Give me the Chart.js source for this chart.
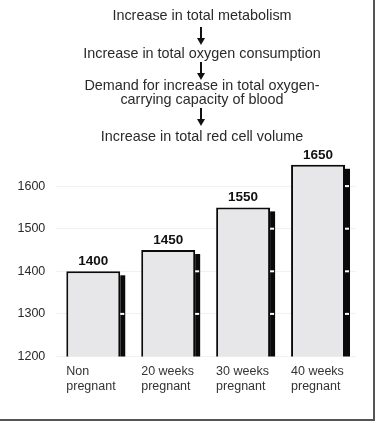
<!DOCTYPE html>
<html>
<head>
<meta charset="utf-8">
<script src="https://cdn.jsdelivr.net/npm/chart.js@4"></script>
<style>
    body { margin: 0; background: #fff; }
    #wrap { position: relative; width: 378px; height: 423px; overflow: hidden; background: #fff; }
    #chart { position: absolute; left: 0; top: 0; }
    .step { position: absolute; left: 0; width: 404px; text-align: center; font: 14.4px "Liberation Sans", Arial, sans-serif; color: #2a2a2a; line-height: 15px; white-space: nowrap; }
    .shaft { position: absolute; left: 200px; width: 2px; background: #111; }
    .head { position: absolute; left: 196.5px; width: 0; height: 0; border-left: 4.5px solid transparent; border-right: 4.5px solid transparent; border-top: 7px solid #111; }
    .frame-r { position: absolute; left: 373px; top: 0; width: 2px; height: 421px; background: #555; }
    .frame-b { position: absolute; left: 0; top: 419px; width: 375px; height: 2px; background: #555; }
</style>
</head>
<body>
<div id="wrap">
    <canvas id="chart" width="378" height="423"></canvas>
    <div id="flow"></div>
    <div class="frame-r"></div>
    <div class="frame-b"></div>
</div>
<script>
// ---- data ----
const categories = [['Non', 'pregnant'], ['20 weeks', 'pregnant'], ['30 weeks', 'pregnant'], ['40 weeks', 'pregnant']];
const redCellVolume = [1400, 1450, 1550, 1650];
const yTicks = [1200, 1300, 1400, 1500, 1600];
const flowSteps = [
    'Increase in total metabolism',
    'Increase in total oxygen consumption',
    'Demand for increase in total oxygen-',
    'carrying capacity of blood',
    'Increase in total red cell volume'
];

// ---- flow chart text above the bars ----
const stepTops = [7.5, 45.5, 77.5, 91.5, 128.5];
const arrows = [[27, 45], [62, 80], [108, 126]];
const flow = document.getElementById('flow');
flowSteps.forEach((txt, i) => {
    const d = document.createElement('div');
    d.className = 'step';
    d.style.top = stepTops[i] + 'px';
    d.textContent = txt;
    flow.appendChild(d);
});
arrows.forEach(([y0, y1]) => {
    const s = document.createElement('div');
    s.className = 'shaft';
    s.style.top = y0 + 'px';
    s.style.height = (y1 - y0 - 6) + 'px';
    flow.appendChild(s);
    const h = document.createElement('div');
    h.className = 'head';
    h.style.top = (y1 - 7) + 'px';
    flow.appendChild(h);
});

// shadow on the right of each bar, with white notches at the tick levels
const barShadow = {
    id: 'barShadow',
    afterDatasetsDraw(chart) {
        const ctx = chart.ctx;
        const y = chart.scales.y;
        const base = y.getPixelForValue(yTicks[0]);
        chart.getDatasetMeta(0).data.forEach((bar, i) => {
            const right = bar.x + bar.width / 2;
            ctx.save();
            ctx.fillStyle = '#0a0a0a';
            ctx.fillRect(right, bar.y + 4, 5, base - bar.y - 4);
            ctx.fillStyle = '#fff';
            yTicks.forEach(v => {
                if (v > yTicks[0] && v < redCellVolume[i]) {
                    ctx.fillRect(right, y.getPixelForValue(v) - 1, 4, 2);
                }
            });
            // value label
            ctx.fillStyle = '#111';
            ctx.font = 'bold 13.5px "Liberation Sans", Arial, sans-serif';
            ctx.textAlign = 'center';
            ctx.textBaseline = 'middle';
            ctx.fillText(String(redCellVolume[i]), bar.x, bar.y - 10);
            ctx.restore();
        });
    }
};

new Chart(document.getElementById('chart'), {
    type: 'bar',
    data: {
        labels: categories,
        datasets: [{
            data: redCellVolume,
            backgroundColor: '#e7e7e9',
            borderColor: '#0a0a0a',
            borderWidth: 2,
            borderSkipped: false,
            categoryPercentage: 1,
            barPercentage: 0.72
        }]
    },
    options: {
        responsive: false,
        devicePixelRatio: 1,
        animation: false,
        layout: { padding: { top: 143.5, left: 7, right: 22.5, bottom: 21.5 } },
        plugins: { legend: { display: false }, tooltip: { enabled: false } },
        scales: {
            x: {
                grid: { display: false, drawTicks: false },
                border: { display: false },
                // labels are shifted left onto the bar edge, so drop the auto padding
                afterFit: (scale) => { scale.paddingLeft = 0; scale.paddingRight = 0; },
                ticks: {
                    color: '#333',
                    font: { family: '"Liberation Sans", Arial, sans-serif', size: 12.5, lineHeight: 1.2 },
                    align: 'start',
                    labelOffset: -27,
                    padding: 7.5,
                    maxRotation: 0,
                    autoSkip: false
                }
            },
            y: {
                min: 1200,
                max: 1700,
                afterBuildTicks: (axis) => { axis.ticks = yTicks.map(v => ({ value: v })); },
                grid: { color: '#f1f1f1', drawTicks: false },
                border: { display: false },
                ticks: {
                    color: '#2a2a2a',
                    font: { family: '"Liberation Sans", Arial, sans-serif', size: 12.5 },
                    padding: 10.5,
                    callback: (v) => String(v)
                }
            }
        }
    },
    plugins: [barShadow]
});
</script>
</body>
</html>
